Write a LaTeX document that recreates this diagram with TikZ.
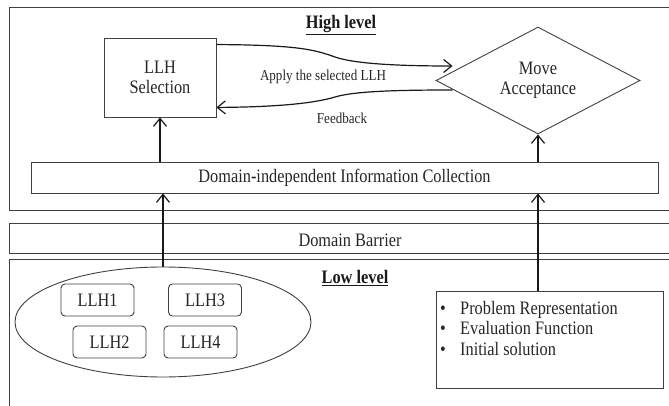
\documentclass[tikz,border=0pt]{standalone}
\usepackage{fontspec}
\setmainfont[FakeStretch=0.86]{Liberation Serif}
\usetikzlibrary{arrows.meta,shapes.geometric,calc}
\begin{document}
\begin{tikzpicture}[x=1pt,y=-1pt,
  frame/.style={draw=black!75, line width=0.9pt},
  box/.style={frame, inner sep=0pt},
  lbl/.style={font=\fontsize{19}{20}\selectfont, text=black!85, align=center},
  head/.style={font=\fontsize{19}{20}\selectfont\bfseries, text=black!90},
  small/.style={font=\fontsize{15.2}{15}\selectfont, text=black!85},
  arr/.style={draw=black!90, line width=1.2pt, -{Straight Barb[length=8pt,width=13pt]}},
  llh/.style={box, rounded corners=4pt, minimum width=73pt, minimum height=32pt, lbl},
  item/.style={lbl, anchor=base west, inner sep=0pt},
]
\clip (0,0) rectangle (669,406);
% the three horizontal bands
\draw[frame] (9,7) rectangle (690,210);
\draw[frame] (9,223) rectangle (690,253);
\draw[frame] (9,259) rectangle (690,430);

% high level
\node[head] (hl) at (341,25) {\underline{High level}};
\node[box, lbl, minimum width=112pt, minimum height=79pt] (sel) at (160,77.5) {LLH\\Selection};
\node[frame, shape=diamond, aspect=2, inner sep=0pt, minimum width=204pt,
      minimum height=107pt, lbl] (dia) at (538,80.5) {Move\\Acceptance};
\node[box, lbl, minimum width=627pt, minimum height=31pt] (di) at (344.5,177.5)
      {Domain\textbf{-}independent Information Collection};

% barrier
\node[lbl] (db) at (350,240) {Domain Barrier};

% low level
\node[head] (ll) at (355,278) {\underline{Low level}};
\node[box, ellipse, minimum width=296pt, minimum height=110pt] (ell) at (163,322) {};
\node[llh] (l1) at (97.5,300) {LLH1};
\node[llh] (l3) at (205,300) {LLH3};
\node[llh] (l2) at (109.5,342) {LLH2};
\node[llh] (l4) at (200.5,342) {LLH4};
\node[box, minimum width=227pt, minimum height=97pt] (pb) at (549.5,339.5) {};
\node[item] (p1) at (440,314) {\makebox[20pt][l]{\textbullet}Problem Representation};
\node[item] (p2) at (440,334.5) {\makebox[20pt][l]{\textbullet}Evaluation Function};
\node[item] (p3) at (440,355) {\makebox[20pt][l]{\textbullet}Initial solution};

% curved exchange between selection and acceptance
\coordinate (aps) at ($(sel.north east)+(0,7)$);
\coordinate (ape) at ($(dia.west)+(17,-14.5)$);
\coordinate (fbs) at ($(dia.west)+(17,9.5)$);
\coordinate (fbe) at ($(sel.south east)+(0,-10)$);
\draw[arr] (aps) .. controls (300,45) and (315,50) .. (335,57)
                 .. controls (355,64) and (400,66) .. (ape);
\draw[arr] (fbs) .. controls (400,90) and (355,91) .. (335,97)
                 .. controls (315,103) and (280,107) .. (fbe);
\node[small] (apl) at (323,77) {Apply the selected LLH};
\node[small] (fbl) at (342,118) {Feedback};

% vertical links
\draw[arr] (di.north -| sel.south) -- (sel.south);
\draw[arr] (di.north -| dia.south) -- (dia.south);
\draw[arr] (ell.north) -- (ell.north |- di.south);
\draw[arr] (pb.north -| dia.south) -- (di.south -| dia.south);
\end{tikzpicture}
\end{document}
